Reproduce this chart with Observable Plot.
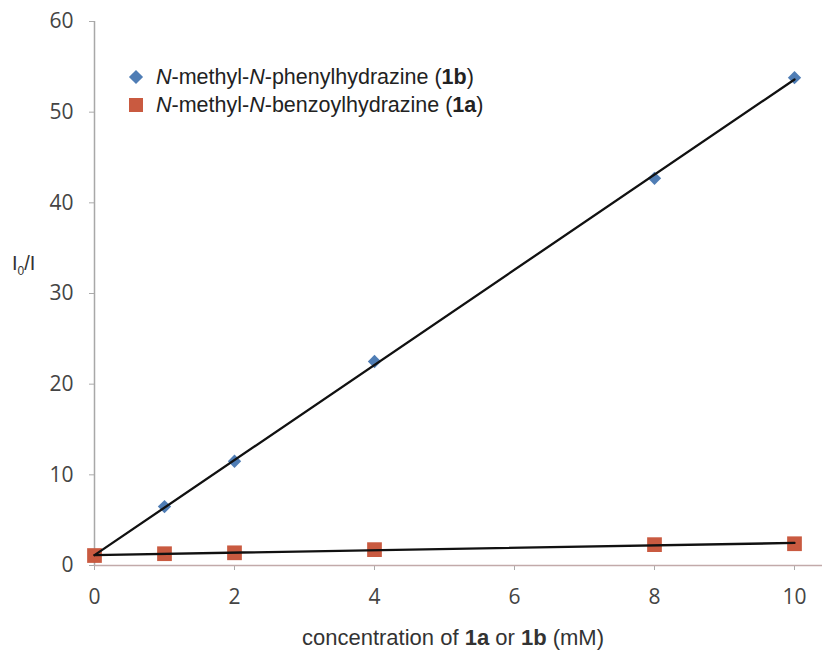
<!DOCTYPE html>
<html>
<head>
<meta charset="utf-8">
<script src="https://cdn.jsdelivr.net/npm/d3@7"></script>
<script src="https://cdn.jsdelivr.net/npm/@observablehq/plot@0.6"></script>
<style>
  html, body { margin: 0; padding: 0; background: #fff; }
  #wrap { position: relative; width: 822px; height: 652px; }
  .legend { position: absolute; left: 128px; top: 63px; font-family: "Liberation Sans", Arial, sans-serif; font-size: 21.5px; color: #222; line-height: 28px; }
  .legend .row { display: flex; align-items: center; }
  .legend svg { margin-right: 12px; }
  .ylab { position: absolute; left: 12px; top: 252px; font-family: "Liberation Sans", Arial, sans-serif; font-size: 20px; color: #333; }
  .ylab sub { font-size: 12px; }
  .xlab { position: absolute; left: 0; width: 906px; top: 625px; text-align: center; font-family: "Liberation Sans", Arial, sans-serif; font-size: 22px; color: #333; }
</style>
</head>
<body>
<div id="wrap">
  <div id="chart"></div>
  <div class="legend">
    <div class="row"><svg width="16" height="16"><rect x="3" y="3" width="10" height="10" transform="rotate(45 8 8)" fill="#4f7db5"></rect></svg><span><i>N</i>-methyl-<i>N</i>-phenylhydrazine (<b>1b</b>)</span></div>
    <div class="row"><svg width="16" height="16"><rect x="1" y="1" width="14" height="14" fill="#c95a40"></rect></svg><span><i>N</i>-methyl-<i>N</i>-benzoylhydrazine (<b>1a</b>)</span></div>
  </div>
  <div class="ylab">I<sub>0</sub>/I</div>
  <div class="xlab">concentration of <b>1a</b> or <b>1b</b> (mM)</div>
</div>
<script>
const concentrations = [0, 1, 2, 4, 8, 10];
const phenylValues = [1.0, 6.5, 11.5, 22.5, 42.7, 53.8];   // 1b
const benzoylValues = [1.1, 1.3, 1.4, 1.75, 2.3, 2.4];     // 1a
const xTicks = [0, 2, 4, 6, 8, 10];
const yTicks = [0, 10, 20, 30, 40, 50, 60];

const phenyl = concentrations.map((c, i) => ({x: c, y: phenylValues[i], s: "1b"}));
const benzoyl = concentrations.map((c, i) => ({x: c, y: benzoylValues[i], s: "1a"}));
const all = phenyl.concat(benzoyl);

const chart = Plot.plot({
  width: 822,
  height: 652,
  marginLeft: 94,
  marginRight: 0,
  marginTop: 21,
  marginBottom: 87,
  style: {fontFamily: "'Open Sans', sans-serif", fontSize: "21px", color: "#444", background: "#fff"},
  x: {domain: [0, 10.4]},
  y: {domain: [0, 60]},
  marks: [
    Plot.axisX({ticks: xTicks, tickSize: 5, tickPadding: 19, stroke: "#aaa", label: null}),
    Plot.axisY({ticks: yTicks, tickSize: 5, tickPadding: 16, stroke: "#aaa", label: null}),
    Plot.ruleX([0], {stroke: "#a8a8a8", strokeWidth: 1.5}),
    Plot.ruleY([0], {stroke: "#c2aaaa", strokeWidth: 1.5}),
    Plot.dot(phenyl, {x: "x", y: "y", symbol: "diamond2", r: 6, fill: "#4f7db5"}),
    Plot.dot(benzoyl, {x: "x", y: "y", symbol: "square", r: 8.3, fill: "#c95a40"}),
    Plot.linearRegressionY(all, {x: "x", y: "y", z: "s", stroke: "#111", strokeWidth: 2.3, ci: 0})
  ]
});
document.getElementById("chart").appendChild(chart);
</script>
</body>
</html>
